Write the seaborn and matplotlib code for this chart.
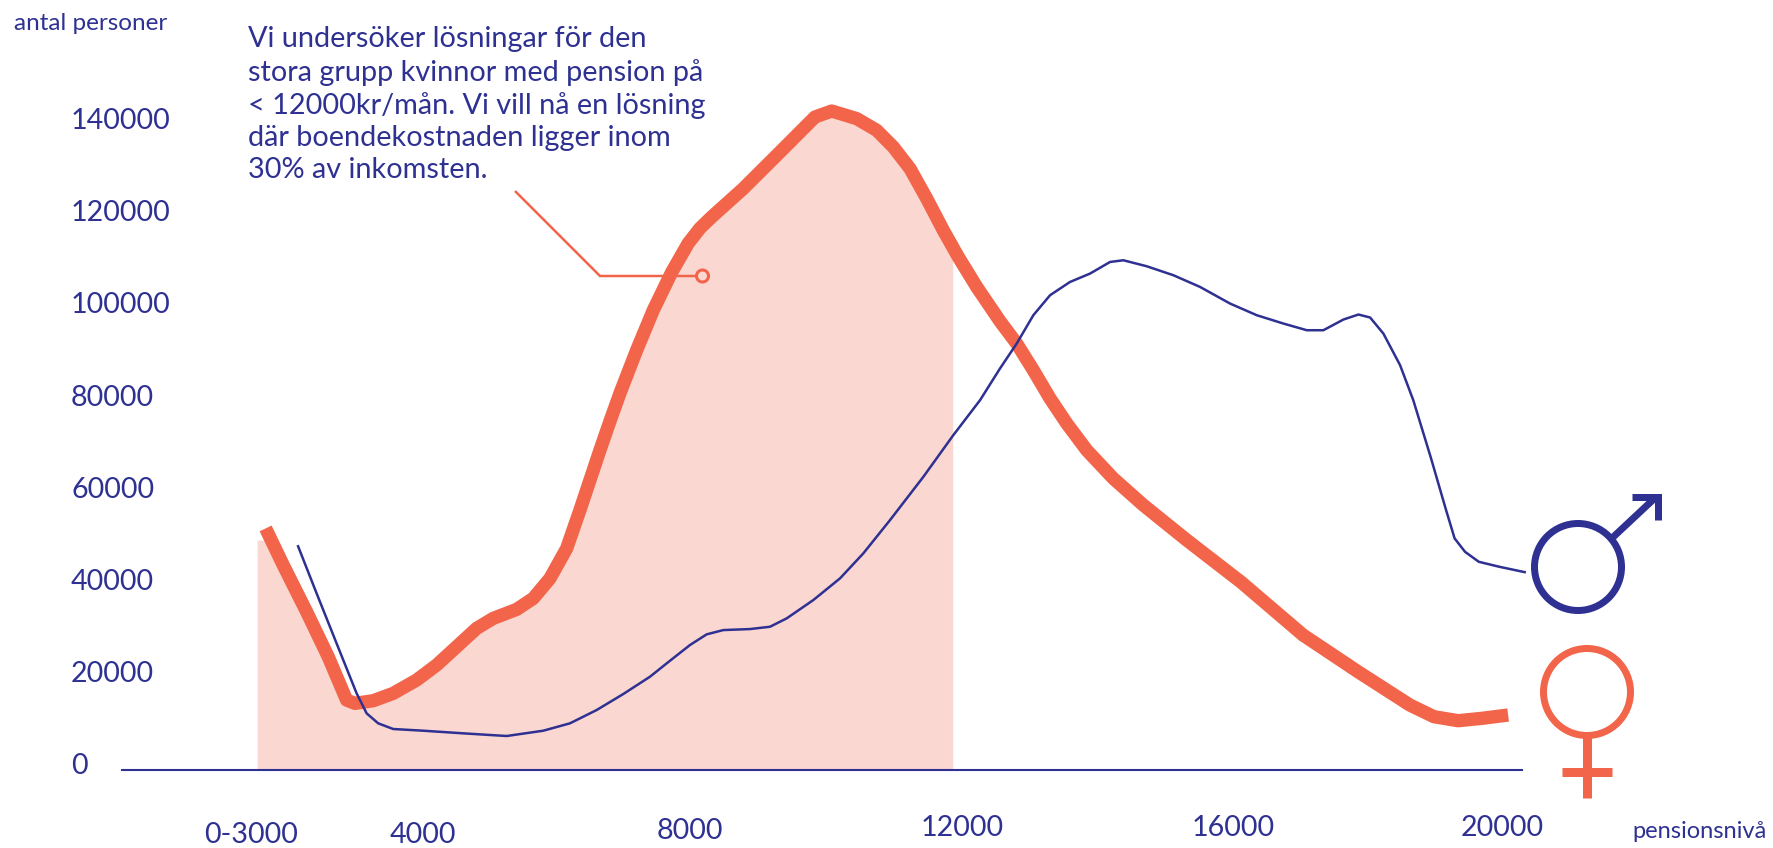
import matplotlib
matplotlib.use("Agg")
import matplotlib.pyplot as plt
from matplotlib.lines import Line2D
from matplotlib.patches import Circle
from matplotlib.transforms import Affine2D, ScaledTranslation
import pandas as pd
import seaborn as sns

# ---- data ----
y_ticks = [0, 20000, 40000, 60000, 80000, 100000, 120000, 140000]
x_ticks = [1500, 4000, 8000, 12000, 16000, 20000]
x_tick_labels = ["0-3000", "4000", "8000", "12000", "16000", "20000"]

women_pension = [1732, 1992, 2338, 2657, 2929, 3052, 3322, 3618, 3964, 4260, 4555, 4851, 5096, 5442,
                 5688, 5935, 6182, 6378, 6674, 6822, 6970, 7216, 7462, 7734, 7979, 8152, 8325, 8792, 9286,
                 9852, 10099, 10469, 10765, 11010, 11257, 11504, 11749, 11971, 12243, 12587, 12834,
                 13080, 13327, 13574, 13869, 14262, 14706, 15348, 16150, 17067, 17880, 18646, 19002,
                 19359, 19713, 20098]
women_count = [52450, 44490, 34350, 24590, 15190, 14470, 15040, 16640, 19530, 22790, 26760, 30750,
               32920, 34870, 37260, 41600, 48110, 56420, 69440, 75730, 81810, 91140, 99820, 108070,
               114360, 117610, 120070, 126230, 133450, 141770, 143070, 141420, 138880, 135260, 130570,
               124060, 117180, 111390, 104880, 97430, 92590, 86800, 80660, 75230, 69440, 63300, 57510,
               49910, 40800, 29300, 21330, 14100, 11570, 10700, 11220, 11940]

men_pension = [2205, 2486, 2781, 3077, 3225, 3396, 3618, 4062, 4653, 5295, 5836, 6230, 6625, 7018,
               7413, 7660, 8004, 8251, 8497, 8891, 9187, 9434, 9827, 10222, 10566, 10961, 11454, 11897,
               12292, 12587, 12834, 13080, 13327, 13622, 13918, 14214, 14410, 14756, 15150, 15544,
               15988, 16382, 16776, 17122, 17367, 17663, 17885, 18058, 18254, 18501, 18696, 18952,
               19181, 19307, 19461, 19665, 19969, 20361]
men_count = [48830, 38340, 27490, 16640, 12300, 10130, 8900, 8530, 7960, 7380, 8530, 10130, 13020,
             16490, 20250, 23150, 27130, 29450, 30380, 30600, 31100, 32920, 36890, 41600, 47020, 54250,
             63650, 72700, 80290, 87170, 92590, 98740, 103080, 105960, 107780, 110300, 110670, 109370,
             107420, 104880, 101270, 98740, 96930, 95480, 95480, 97800, 98890, 98240, 94760, 87890,
             80290, 67990, 56420, 50280, 47370, 45200, 44120, 42900]

shade_pension = [1607, 1815] + women_pension[1:37] + [11888]
shade_count = [49910, 49910] + women_count[1:37] + [113600]

callout = ("Vi undersöker lösningar för den\nstora grupp kvinnor med pension på\n"
           "< 12000kr/mån. Vi vill nå en lösning\ndär boendekostnaden ligger inom\n30% av inkomsten.")

# ---- style ----
NAVY = "#2E3192"
CORAL = "#F2654A"
PINK = "#FAD7D1"
W, H = 1773, 848

sns.set_theme(style="white")
plt.rcParams["font.family"] = ["Lato", "DejaVu Sans"]

fig = plt.figure(figsize=(W / 100, H / 100), dpi=100, facecolor="white")
ax = fig.add_axes([122 / W, 1 - 770 / H, (1522 - 122) / W, (770 - 102) / H])
ax.set_facecolor("none")

women = pd.DataFrame({"pension": women_pension, "count": women_count})
men = pd.DataFrame({"pension": men_pension, "count": men_count})

ax.fill_between(shade_pension, shade_count, 0, color=PINK, lw=0, zorder=1)
sns.lineplot(data=women, x="pension", y="count", ax=ax, color=CORAL, lw=9.6, sort=False,
             estimator=None, zorder=3, solid_joinstyle="round", solid_capstyle="butt", clip_on=False)
sns.lineplot(data=men, x="pension", y="count", ax=ax, color=NAVY, lw=1.8, sort=False,
             estimator=None, zorder=4, solid_joinstyle="round", solid_capstyle="butt", clip_on=False)

ax.set_xlim(-391, 20303)
ax.set_ylim(0, 145031)
ax.set_xlabel("")
ax.set_ylabel("")
for side in ("top", "left", "right"):
    ax.spines[side].set_visible(False)
ax.spines["bottom"].set_color(NAVY)
ax.spines["bottom"].set_linewidth(1.5)
ax.spines["bottom"].set_zorder(5)

ax.set_yticks(y_ticks)
ax.set_yticklabels([str(v) for v in y_ticks])
ax.set_xticks(x_ticks)
ax.set_xticklabels(x_tick_labels)
ax.tick_params(axis="y", length=0, pad=36.7, labelsize=20.6, labelcolor=NAVY)
ax.tick_params(axis="x", length=0, pad=41.5, labelsize=20.6, labelcolor=NAVY)
for lab in ax.get_yticklabels():
    lab.set_ha("left")
    lab.set_transform(lab.get_transform() + ScaledTranslation(0, 6.5 / 100, fig.dpi_scale_trans))
for lab, drop, nudge in zip(ax.get_xticklabels(), [7, 7, 3, 0, 0, 0], [1, 4, 0, 2, 2, 1]):
    lab.set_va("center")
    lab.set_transform(lab.get_transform() + ScaledTranslation(nudge / 100, -drop / 100, fig.dpi_scale_trans))

# pixel coordinates for the annotations and the gender signs (y measured from the top)
px = Affine2D().scale(1 / W, -1 / H).translate(0, 1) + fig.transFigure


def seg(xs, ys, color, lw):
    fig.add_artist(Line2D(xs, ys, color=color, lw=lw * 0.72, transform=px,
                          solid_capstyle="butt", solid_joinstyle="miter"))


fig.text(14, 23, "antal personer", transform=px, color=NAVY, fontsize=17.5, va="center", ha="left")
fig.text(1632, 832, "pensionsnivå", transform=px, color=NAVY, fontsize=17, va="center", ha="left")
fig.text(248, 26.5, callout, transform=px, color=NAVY, fontsize=20.8, va="top", ha="left", linespacing=1.29)

seg([515, 600, 696], [191, 276, 276], CORAL, 2.5)
fig.add_artist(Circle((702.5, 276), 6, transform=px, fill=False, ec=CORAL, lw=2.2))

# male sign
fig.add_artist(Circle((1578, 567), 43.5, transform=px, fill=False, ec=NAVY, lw=7 * 0.72))
seg([1610, 1656], [540, 497], NAVY, 7)
seg([1632, 1658, 1658], [497, 497, 520], NAVY, 7)

# female sign
fig.add_artist(Circle((1587, 692), 43.5, transform=px, fill=False, ec=CORAL, lw=7 * 0.72))
seg([1587, 1587], [737, 798], CORAL, 9)
seg([1562, 1612], [772, 772], CORAL, 9)

fig.savefig("out.png", dpi=100)
